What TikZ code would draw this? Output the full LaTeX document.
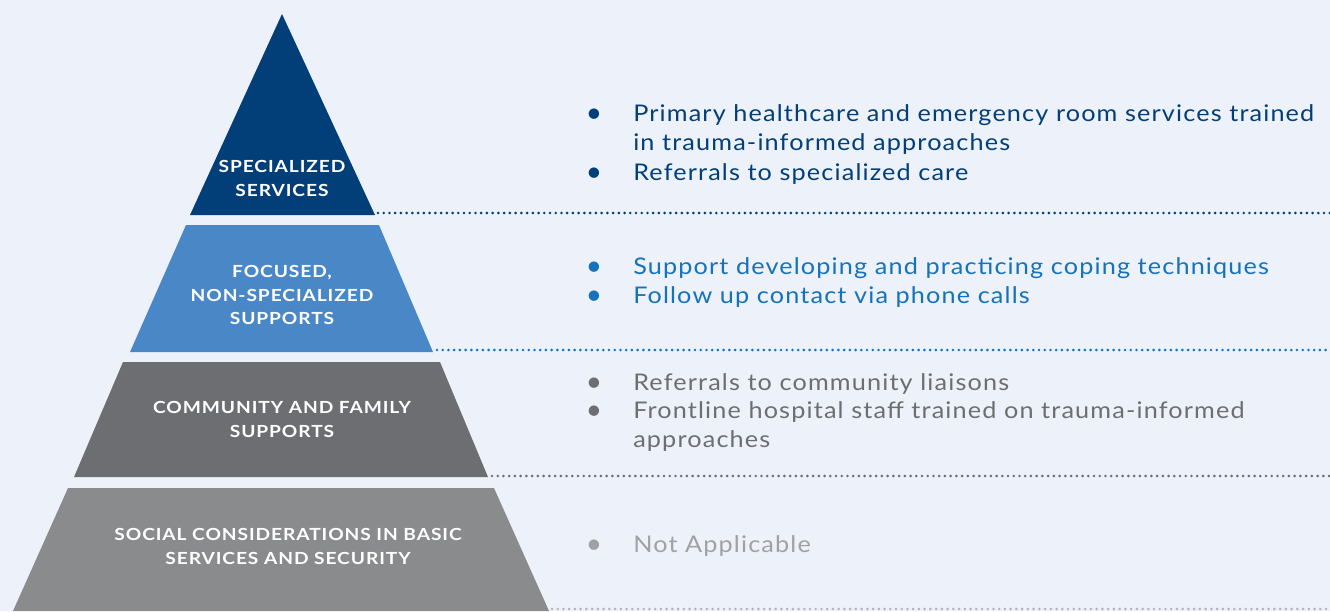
\documentclass[tikz,border=0pt]{standalone}
\usepackage{fontspec}
\setmainfont{Lato}
\newfontfamily\bodyfont[FakeStretch=1.1,LetterSpace=5]{Lato}
\newfontfamily\capfont[FakeStretch=1.15,LetterSpace=5.5]{Lato}
\begin{document}
\definecolor{bgc}{RGB}{237,242,250}
\definecolor{navy}{RGB}{2,63,121}
\definecolor{midblue}{RGB}{74,135,198}
\definecolor{textblue}{RGB}{21,114,189}
\definecolor{darkgray}{RGB}{109,110,113}
\definecolor{lightgray}{RGB}{138,139,141}
\definecolor{palegray}{RGB}{160,161,164}
\definecolor{dotgray}{RGB}{178,180,184}
\begin{tikzpicture}[x=0.75pt,y=-0.75pt,
  tierlabel/.style={text=white,font=\capfont\fontsize{12.5}{17.6}\selectfont\bfseries,align=center,inner sep=0pt},
  dotline/.style={line width=2.2pt,line cap=round,dash pattern=on 0pt off 4.3pt},
  item/.style={font=\bodyfont\fontsize{17.2}{22.1}\selectfont,anchor=base west,inner sep=0pt},
  bul/.style={font=\fontsize{21}{22.1}\selectfont,anchor=base,inner sep=0pt}]
  % canvas
  \fill[bgc] (0,0) rectangle (1330,611);
  \useasboundingbox (0,0) rectangle (1330,611);
  % pyramid tiers
  \fill[navy] (282,14) -- (375,215) -- (190,215) -- cycle;
  \fill[midblue] (186,225) -- (379,225) -- (433,352) -- (130,352) -- cycle;
  \fill[darkgray] (123,362) -- (440,362) -- (488,477) -- (74,477) -- cycle;
  \fill[lightgray] (68,488) -- (494,488) -- (549,611) -- (13,611) -- cycle;
  % tier captions
  \node[tierlabel] (l1) at (282,178.5) {SPECIALIZED\\SERVICES};
  \node[tierlabel] (l2) at (282,295) {FOCUSED,\\NON-SPECIALIZED\\SUPPORTS};
  \node[tierlabel] (l3) at (282,419.5) {COMMUNITY AND FAMILY\\SUPPORTS};
  \node[tierlabel] (l4) at (288,546.5) {SOCIAL CONSIDERATIONS IN BASIC\\SERVICES AND SECURITY};
  % dotted separators
  \coordinate (d1a) at (378,213); \coordinate (d1b) at (1330,213);
  \coordinate (d2a) at (437,350); \coordinate (d2b) at (1330,350);
  \coordinate (d3a) at (492,476); \coordinate (d3b) at (1330,476);
  \coordinate (d4a) at (552,609); \coordinate (d4b) at (1330,609);
  \draw[dotline,navy] (d1a) -- (d1b);
  \draw[dotline,textblue] (d2a) -- (d2b);
  \draw[dotline,darkgray] (d3a) -- (d3b);
  \draw[dotline,dotgray] (d4a) -- (d4b);
  % descriptions
  \begin{scope}[text=navy]
    \node[bul] (b1) at (594,122) {\textbullet};
    \node[item] (t1) at (633,121) {Primary healthcare and emergency room services trained};
    \node[item] (t1b) at (633,150) {in trauma-informed approaches};
    \node[bul] (b2) at (594,181) {\textbullet};
    \node[item] (t2) at (633,180) {Referrals to specialized care};
  \end{scope}
  \begin{scope}[text=textblue]
    \node[bul] (b3) at (594,275) {\textbullet};
    \node[item] (t3) at (633,274) {Support developing and practicing coping techniques};
    \node[bul] (b4) at (594,304) {\textbullet};
    \node[item] (t4) at (633,303) {Follow up contact via phone calls};
  \end{scope}
  \begin{scope}[text=darkgray]
    \node[bul] (b5) at (594,391) {\textbullet};
    \node[item] (t5) at (633,390) {Referrals to community liaisons};
    \node[bul] (b6) at (594,419) {\textbullet};
    \node[item] (t6) at (633,418) {Frontline hospital staff trained on trauma-informed};
    \node[item] (t6b) at (633,447) {approaches};
  \end{scope}
  \begin{scope}[text=palegray]
    \node[bul] (b7) at (594,553) {\textbullet};
    \node[item] (t7) at (633,552) {Not Applicable};
  \end{scope}
\end{tikzpicture}
\end{document}
